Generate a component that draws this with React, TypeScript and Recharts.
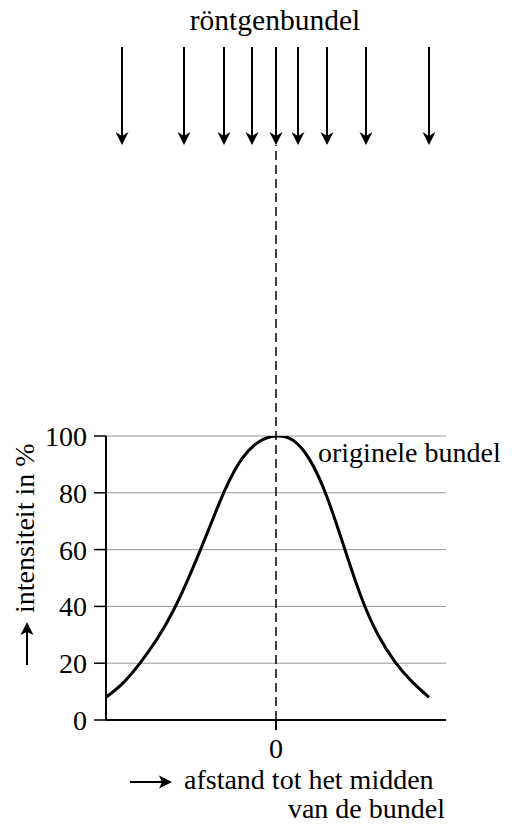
import React from 'react';
import {
  ComposedChart,
  Line,
  XAxis,
  YAxis,
  CartesianGrid,
  ReferenceLine,
  Customized,
} from 'recharts';

// distance from beam centre (arbitrary units) and intensity in %
const curveX = [-170, -153, -136, -119, -102, -85, -68, -51, -34, -17, 0, 17, 34, 51, 68, 85, 102, 119, 136, 153];
const curveV = [8, 13, 20, 28.5, 39, 52, 66.5, 81, 92, 98, 100, 98.5, 91.5, 78.5, 61, 43.5, 30, 20.5, 13.5, 8];

const yTicks = [0, 20, 40, 60, 80, 100];
const xTicks = [0];
const xTickLabels = ['0'];

// positions of the incoming x-ray arrows
const beamX = [-154, -92, -52, -24, 0, 22, 51, 90, 153];
const beamTop = 237;
const beamTip = 202.5;

const title = 'röntgenbundel';
const curveLabel = 'originele bundel';
const yLabel = 'intensiteit in %';
const xLabel1 = 'afstand tot het midden';
const xLabel2 = 'van de bundel';

const data = curveX.map((x, i) => ({ x, v: curveV[i] }));

const FONT = '"Liberation Serif", "Times New Roman", serif';
const TS: React.CSSProperties = { fontFamily: FONT };

const arrowShape = (p: any) => {
  const { x1, y1, x2, y2 } = p;
  const tipY = Math.max(y1, y2);
  const topY = Math.min(y1, y2);
  return (
    <g>
      <line x1={x1} y1={topY} x2={x2} y2={tipY - 6} stroke="#000" strokeWidth={2} />
      <polygon
        points={`${x1 - 6.5},${tipY - 13} ${x1},${tipY} ${x1 + 6.5},${tipY - 13} ${x1},${tipY - 9}`}
        fill="#000"
      />
    </g>
  );
};

const Annotations = () => (
  <g fill="#000">
    <text x={275} y={30} fontSize={29.5} textAnchor="middle" style={TS}>{title}</text>
    <text x={318} y={462} fontSize={28} style={TS}>{curveLabel}</text>
    {/* y label */}
    <text x={34} y={613} fontSize={28} transform="rotate(-90 34 613)" textAnchor="start" style={TS}>{yLabel}</text>
    <line x1={27} y1={665} x2={27} y2={630} stroke="#000" strokeWidth={2} />
    <polygon points="20.5,635 27,622 33.5,635 27,632" fill="#000" />
    {/* x label */}
    <line x1={130} y1={782} x2={164} y2={782} stroke="#000" strokeWidth={2} />
    <polygon points="159,775.5 172,782 159,788.5 162,782" fill="#000" />
    <text x={184} y={789} fontSize={28} style={TS}>{xLabel1}</text>
    <text x={445} y={818} fontSize={28} textAnchor="end" style={TS}>{xLabel2}</text>
  </g>
);

export default function App() {
  return (
    <div style={{ position: 'absolute', left: 0, top: 0 }}>
      <ComposedChart
        width={512}
        height={832}
        data={data}
        margin={{ top: 436, right: 66, left: 0, bottom: 72 }}
      >
        <CartesianGrid horizontal vertical={false} stroke="#999" strokeWidth={1} />
        <XAxis
          dataKey="x"
          type="number"
          domain={[-170, 170]}
          ticks={xTicks}
          tickFormatter={(v: number) => xTickLabels[xTicks.indexOf(v)] ?? ''}
          height={40}
          axisLine={{ stroke: '#000', strokeWidth: 2 }}
          tickLine={{ stroke: '#000', strokeWidth: 2 }}
          tickSize={10}
          tickMargin={8}
          tick={{ fontSize: 28, fontFamily: FONT, fill: '#000' }}
          allowDataOverflow
        />
        <YAxis
          type="number"
          domain={[0, 100]}
          ticks={yTicks}
          width={106}
          axisLine={{ stroke: '#000', strokeWidth: 2 }}
          tickLine={{ stroke: '#000', strokeWidth: 1.5 }}
          tickSize={12}
          tickMargin={7}
          tick={{ fontSize: 28, fontFamily: FONT, fill: '#000' }}
          allowDataOverflow
        />
        <ReferenceLine
          segment={[{ x: 0, y: 0 }, { x: 0, y: beamTip }]}
          ifOverflow="visible"
          stroke="#000"
          strokeWidth={1.5}
          strokeDasharray="9 5"
        />
        {beamX.map((bx) => (
          <ReferenceLine
            key={bx}
            segment={[{ x: bx, y: beamTop }, { x: bx, y: beamTip }]}
            ifOverflow="visible"
            shape={arrowShape}
          />
        ))}
        <Line
          dataKey="v"
          type="natural"
          stroke="#000"
          strokeWidth={3}
          dot={false}
          isAnimationActive={false}
        />
        <Customized component={Annotations} />
      </ComposedChart>
    </div>
  );
}
